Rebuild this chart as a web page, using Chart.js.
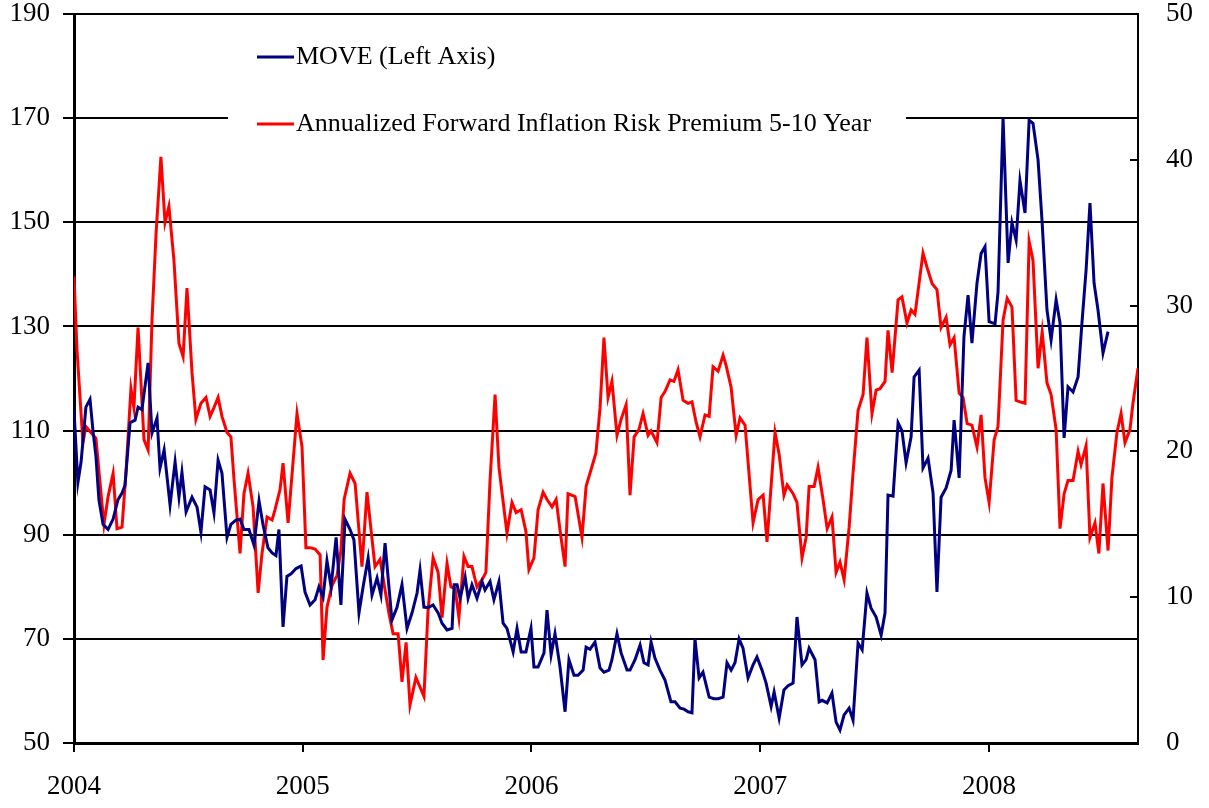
<!DOCTYPE html>
<html>
<head>
<meta charset="utf-8">
<script src="https://cdn.jsdelivr.net/npm/chart.js@4.4.0/dist/chart.umd.min.js"></script>
<style>
    html, body { margin: 0; padding: 0; background: #fff; }
    #wrap { width: 1209px; height: 808px; }
</style>
</head>
<body>
<div id="wrap"><canvas id="moveChart" width="1209" height="808"></canvas></div>
<script>
const yearTicks = [2004, 2005, 2006, 2007, 2008];
const legendLabels = ['MOVE (Left Axis)', 'Annualized Forward Inflation Risk Premium 5-10 Year'];

// MOVE index, weekly-ish readings (left axis)
const moveT = [
    2004.000, 2004.017, 2004.031, 2004.052, 2004.070, 2004.083, 2004.096, 2004.109, 2004.127, 2004.149,
    2004.171, 2004.192, 2004.210, 2004.223, 2004.245, 2004.267, 2004.280, 2004.297, 2004.324, 2004.341,
    2004.363, 2004.376, 2004.394, 2004.420, 2004.442, 2004.459, 2004.472, 2004.490, 2004.516, 2004.538,
    2004.555, 2004.573, 2004.595, 2004.612, 2004.630, 2004.647, 2004.669, 2004.686, 2004.708, 2004.726,
    2004.743, 2004.765, 2004.787, 2004.809, 2004.826, 2004.848, 2004.866, 2004.883, 2004.896, 2004.914,
    2004.931, 2004.949, 2004.971, 2004.993,
    2005.010, 2005.032, 2005.054, 2005.071, 2005.089, 2005.106, 2005.124, 2005.146, 2005.167, 2005.185,
    2005.207, 2005.224, 2005.246, 2005.264, 2005.286, 2005.303, 2005.325, 2005.342, 2005.360, 2005.377,
    2005.390, 2005.412, 2005.434, 2005.456, 2005.478, 2005.500, 2005.513, 2005.530, 2005.548, 2005.570,
    2005.592, 2005.609, 2005.631, 2005.653, 2005.662, 2005.675, 2005.688, 2005.710, 2005.723, 2005.740,
    2005.762, 2005.784, 2005.797, 2005.819, 2005.836, 2005.858, 2005.876, 2005.893, 2005.920, 2005.937,
    2005.955, 2005.976, 2005.998,
    2006.011, 2006.029, 2006.055, 2006.068, 2006.086, 2006.103, 2006.125, 2006.147, 2006.164, 2006.186,
    2006.204, 2006.226, 2006.239, 2006.256, 2006.278, 2006.300, 2006.317, 2006.339, 2006.352, 2006.374,
    2006.392, 2006.418, 2006.431, 2006.453, 2006.475, 2006.492, 2006.510, 2006.523, 2006.540, 2006.562,
    2006.584, 2006.610, 2006.628, 2006.650, 2006.667, 2006.685, 2006.702, 2006.715, 2006.733, 2006.750,
    2006.777, 2006.798, 2006.816, 2006.838, 2006.855, 2006.873, 2006.890, 2006.908, 2006.925, 2006.947,
    2006.969, 2006.986,
    2007.008, 2007.026, 2007.048, 2007.061, 2007.083, 2007.104, 2007.122, 2007.144, 2007.161, 2007.183,
    2007.201, 2007.214, 2007.240, 2007.258, 2007.271, 2007.293, 2007.314, 2007.332, 2007.349, 2007.367,
    2007.389, 2007.406, 2007.428, 2007.446, 2007.467, 2007.485, 2007.507, 2007.529, 2007.546, 2007.559,
    2007.581, 2007.603, 2007.620, 2007.638, 2007.660, 2007.673, 2007.695, 2007.712, 2007.734, 2007.756,
    2007.773, 2007.791, 2007.813, 2007.835, 2007.848, 2007.870, 2007.891, 2007.909, 2007.926, 2007.948,
    2007.966, 2007.983,
    2008.001, 2008.027, 2008.040, 2008.062, 2008.084, 2008.101, 2008.119, 2008.136, 2008.158, 2008.176,
    2008.193, 2008.215, 2008.233, 2008.254, 2008.272, 2008.294, 2008.311, 2008.329, 2008.346, 2008.368,
    2008.390, 2008.407, 2008.425, 2008.442, 2008.460, 2008.477, 2008.499, 2008.521,
];
const moveV = [
    114, 100, 104, 114.5, 116, 110, 105, 96.7, 92, 91,
    93, 96.7, 98, 99.5, 111.5, 112, 114.5, 114, 123, 109.5,
    112.4, 102.8, 106.3, 95.7, 104, 97.2, 102, 94.4, 97.2, 95.3,
    90.5, 99.2, 98.6, 94.2, 104.3, 101.8, 89.5, 92, 92.8, 93,
    91, 91, 88, 96.5, 92, 87.5, 86.5, 86, 91, 72.3,
    82, 82.5, 83.5, 84,
    79, 76.5, 77.5, 80, 78, 85, 80, 89.5, 76.5, 93,
    91, 89, 75, 80, 85.5, 78.4, 81.7, 78.4, 88.4, 80,
    73.6, 76, 80.4, 72, 75, 78.8, 83.2, 76.1, 76, 76.5,
    75, 73, 71.7, 72, 80.4, 80.4, 77.8, 81.9, 77.8, 80.4,
    77.8, 81, 79.4, 81, 77.5, 81, 73, 72, 67.5, 72,
    67.5, 67.5, 72,
    64.6, 64.6, 67.3, 75.5, 66.9, 71, 64.6, 56, 66, 63,
    63, 64, 68.4, 68, 69.4, 64.4, 63.6, 64, 66, 71,
    67.3, 64, 64, 66, 68.8, 65.4, 65, 69.4, 66.3, 64,
    62.1, 57.9, 57.9, 56.7, 56.5, 56, 55.8, 70, 62.5, 63.6,
    58.8, 58.5, 58.5, 58.8, 65.4, 64, 65.4, 70, 68.2, 62.5,
    65, 66.5,
    64, 61.5, 57, 59.8, 54.8, 60.2, 61, 61.5, 74.2, 65,
    66, 68.2, 66, 57.9, 58.2, 57.7, 59.6, 54, 52.5, 55.4,
    56.7, 54.4, 69.2, 67.9, 78.8, 75.9, 74.2, 70.7, 75, 97.6,
    97.4, 111.5, 110, 103.8, 108.8, 120.3, 121.6, 102.8, 104.7, 98,
    79, 97.2, 99, 102.4, 112, 100.9, 128, 136, 126.8, 138.3,
    144, 145.3,
    130.9, 130.5, 136.6, 170, 142.2, 149.9, 146.6, 158, 151.8, 169.6,
    169, 162, 149.9, 133.2, 127.4, 135.1, 130.7, 108.6, 118.4, 117.4,
    120.3, 130.7, 140.8, 153.7, 138.3, 133.2, 124.9, 129,
];

// Inflation risk premium 5-10y (right axis)
const riskT = [
    2004.000, 2004.013, 2004.039, 2004.052, 2004.074, 2004.096, 2004.114, 2004.131, 2004.149, 2004.171,
    2004.188, 2004.210, 2004.227, 2004.249, 2004.262, 2004.280, 2004.306, 2004.324, 2004.341, 2004.359,
    2004.380, 2004.398, 2004.415, 2004.437, 2004.459, 2004.477, 2004.494, 2004.516, 2004.533, 2004.555,
    2004.577, 2004.595, 2004.612, 2004.630, 2004.647, 2004.669, 2004.686, 2004.700, 2004.726, 2004.743,
    2004.761, 2004.783, 2004.805, 2004.822, 2004.844, 2004.866, 2004.879, 2004.901, 2004.914, 2004.936,
    2004.975, 2004.997,
    2005.014, 2005.032, 2005.054, 2005.076, 2005.089, 2005.106, 2005.128, 2005.150, 2005.167, 2005.181,
    2005.207, 2005.229, 2005.259, 2005.281, 2005.316, 2005.338, 2005.360, 2005.377, 2005.395, 2005.417,
    2005.434, 2005.452, 2005.469, 2005.495, 2005.530, 2005.548, 2005.570, 2005.592, 2005.609, 2005.631,
    2005.648, 2005.666, 2005.683, 2005.705, 2005.723, 2005.740, 2005.762, 2005.784, 2005.801, 2005.819,
    2005.841, 2005.858, 2005.893, 2005.915, 2005.933, 2005.955, 2005.976, 2005.989,
    2006.011, 2006.029, 2006.051, 2006.068, 2006.090, 2006.108, 2006.125, 2006.147, 2006.160, 2006.191,
    2006.221, 2006.239, 2006.256, 2006.282, 2006.300, 2006.317, 2006.335, 2006.352, 2006.374, 2006.392,
    2006.414, 2006.431, 2006.449, 2006.470, 2006.488, 2006.510, 2006.523, 2006.549, 2006.567, 2006.584,
    2006.606, 2006.623, 2006.641, 2006.663, 2006.685, 2006.702, 2006.720, 2006.737, 2006.759, 2006.777,
    2006.794, 2006.816, 2006.838, 2006.851, 2006.873, 2006.895, 2006.912, 2006.934, 2006.969, 2006.991,
    2007.013, 2007.030, 2007.065, 2007.083, 2007.104, 2007.118, 2007.144, 2007.161, 2007.183, 2007.201,
    2007.214, 2007.236, 2007.253, 2007.275, 2007.293, 2007.314, 2007.332, 2007.349, 2007.367, 2007.389,
    2007.406, 2007.428, 2007.450, 2007.467, 2007.489, 2007.507, 2007.524, 2007.546, 2007.559, 2007.577,
    2007.603, 2007.620, 2007.642, 2007.660, 2007.677, 2007.712, 2007.730, 2007.752, 2007.773, 2007.791,
    2007.813, 2007.830, 2007.848, 2007.870, 2007.887, 2007.905, 2007.926, 2007.948, 2007.966, 2007.983,
    2008.001, 2008.023, 2008.040, 2008.062, 2008.080, 2008.101, 2008.119, 2008.136, 2008.158, 2008.176,
    2008.193, 2008.215, 2008.233, 2008.254, 2008.272, 2008.294, 2008.311, 2008.329, 2008.346, 2008.368,
    2008.390, 2008.403, 2008.425, 2008.442, 2008.464, 2008.481, 2008.499, 2008.521, 2008.538, 2008.560,
    2008.578, 2008.595, 2008.617, 2008.630, 2008.652,
];
const riskV = [
    32, 27, 20.6, 21.7, 21.3, 20.9, 17.8, 15, 16.9, 18.5,
    14.7, 14.8, 18.5, 24.3, 23, 28.5, 20.8, 20.1, 29, 35,
    40.2, 35.7, 36.8, 33.1, 27.4, 26.5, 31.2, 25.4, 22.2, 23.3,
    23.7, 22.4, 23, 23.7, 22.4, 21.3, 21, 18, 13, 17.1,
    18.5, 16.2, 10.3, 13, 15.5, 15.3, 16, 17.4, 19.2, 15.1,
    22.6, 20.3,
    13.4, 13.4, 13.3, 12.9, 5.7, 9.3, 10.8, 11.5, 13.2, 16.7,
    18.5, 17.8, 12.1, 17.2, 12.1, 12.6, 10.5, 8.9, 7.5, 7.5,
    4.2, 6.9, 2.6, 4.5, 3.2, 9.1, 12.7, 11.7, 8.6, 12.3,
    10.7, 10.6, 8.6, 12.8, 12.1, 12.1, 10.7, 11.2, 11.7, 18,
    23.9, 18.9, 14.4, 16.5, 15.8, 16, 14.5, 11.9,
    12.7, 16, 17.2, 16.7, 16.2, 16.7, 14.6, 12.1, 17.1, 16.9,
    14.1, 17.6, 18.5, 19.9, 23, 27.8, 23.7, 24.8, 21.1, 22.2,
    23.2, 17, 21, 21.5, 22.6, 21.1, 21.4, 20.6, 23.7, 24.1,
    24.9, 24.8, 25.6, 23.5, 23.3, 23.4, 22, 21, 22.5, 22.4,
    25.8, 25.5, 26.6, 25.9, 24.4, 21.1, 22.3, 21.8, 15.1, 16.7,
    17, 13.8, 21.3, 19.8, 17, 17.7, 17.1, 16.5, 12.7, 14.1,
    17.6, 17.6, 18.9, 16.7, 14.7, 15.5, 11.7, 12.4, 11.2, 14.8,
    18.5, 22.8, 23.9, 27.8, 22.6, 24.2, 24.3, 24.8, 28.3, 25.4,
    30.4, 30.6, 28.8, 29.7, 29.4, 33.6, 32.6, 31.5, 31.1, 28.5,
    29.2, 27.3, 27.8, 24, 23.7, 21.9, 21.8, 20.3, 22.5, 18.2,
    16.5, 20.8, 21.7, 29, 30.5, 29.9, 23.5, 23.4, 23.3, 34.4,
    33.1, 25.7, 28.2, 24.7, 23.9, 21.5, 14.7, 17.1, 18, 18,
    20, 19.1, 20.4, 14.1, 15.1, 13, 17.8, 13.2, 18.2, 21.3,
    22.6, 20.6, 21.5, 23.3, 25.7,
];

const moveColor = '#000080';
const riskColor = '#FF0000';

Chart.defaults.font.family = "'Liberation Serif', 'Times New Roman', serif";
Chart.defaults.font.size = 27;
Chart.defaults.color = '#000';

// no extra padding around axes, so the plot sits where the reference has it
const noPad = scale => {
    scale.paddingTop = 0;
    scale.paddingBottom = 0;
    scale.paddingLeft = 0;
    scale.paddingRight = 0;
};

// legend drawn inside the plot on a white box, plus inward ticks on the right axis
const chartDecor = {
    id: 'chartDecor',
    afterDatasetsDraw(chart) {
        const c = chart.ctx;
        const area = chart.chartArea;
        c.save();
        c.fillStyle = '#fff';
        c.fillRect(228, 30, 678, 110);

        const rows = [
            { label: legendLabels[0], color: moveColor, y: 57 },
            { label: legendLabels[1], color: riskColor, y: 124 },
        ];
        c.font = "26px 'Liberation Serif', 'Times New Roman', serif";
        c.textBaseline = 'middle';
        c.textAlign = 'left';
        rows.forEach(r => {
            c.strokeStyle = r.color;
            c.lineWidth = 3;
            c.beginPath();
            c.moveTo(257, r.y);
            c.lineTo(294, r.y);
            c.stroke();
            c.fillStyle = '#000';
            c.fillText(r.label, 296, r.y);
        });

        const y2 = chart.scales.y2;
        c.strokeStyle = '#000';
        c.lineWidth = 2;
        y2.ticks.forEach(t => {
            const py = Math.round(y2.getPixelForValue(t.value));
            c.beginPath();
            c.moveTo(area.right - 8, py);
            c.lineTo(area.right, py);
            c.stroke();
        });
        c.restore();
    },
};

const ctx = document.getElementById('moveChart').getContext('2d');
const moveChart = new Chart(ctx, {
    type: 'line',
    data: {
        datasets: [
            {
                label: legendLabels[0],
                data: moveT.map((t, i) => ({ x: t, y: moveV[i] })),
                borderColor: moveColor,
                borderWidth: 3,
                pointRadius: 0,
                tension: 0,
                yAxisID: 'y',
            },
            {
                label: legendLabels[1],
                data: riskT.map((t, i) => ({ x: t, y: riskV[i] })),
                borderColor: riskColor,
                borderWidth: 3,
                pointRadius: 0,
                tension: 0,
                yAxisID: 'y2',
            },
        ],
    },
    options: {
        responsive: false,
        animation: false,
        layout: { padding: { top: 14, left: 0, right: 0, bottom: 0 } },
        plugins: {
            legend: { display: false },
            tooltip: { enabled: false },
        },
        scales: {
            x: {
                type: 'linear',
                min: 2004,
                max: 2008.652,
                afterBuildTicks: scale => { scale.ticks = yearTicks.map(v => ({ value: v })); },
                afterFit: scale => { scale.height = 65; noPad(scale); },
                ticks: { callback: v => String(v), padding: 19, maxRotation: 0 },
                grid: { drawOnChartArea: false, color: '#000', lineWidth: 2, tickLength: 9 },
                border: { color: '#000', width: 3 },
            },
            y: {
                position: 'left',
                min: 50,
                max: 190,
                ticks: { stepSize: 20, padding: 13 },
                afterFit: scale => { scale.width = 74; noPad(scale); },
                grid: { color: '#000', lineWidth: 2, tickLength: 11 },
                border: { color: '#000', width: 3 },
            },
            y2: {
                position: 'right',
                min: 0,
                max: 50,
                ticks: { stepSize: 10, padding: 28 },
                afterFit: scale => { scale.width = 71; noPad(scale); },
                grid: { display: false, drawTicks: false },
                border: { display: true, color: '#000', width: 2 },
            },
        },
    },
    plugins: [chartDecor],
});
</script>
</body>
</html>
